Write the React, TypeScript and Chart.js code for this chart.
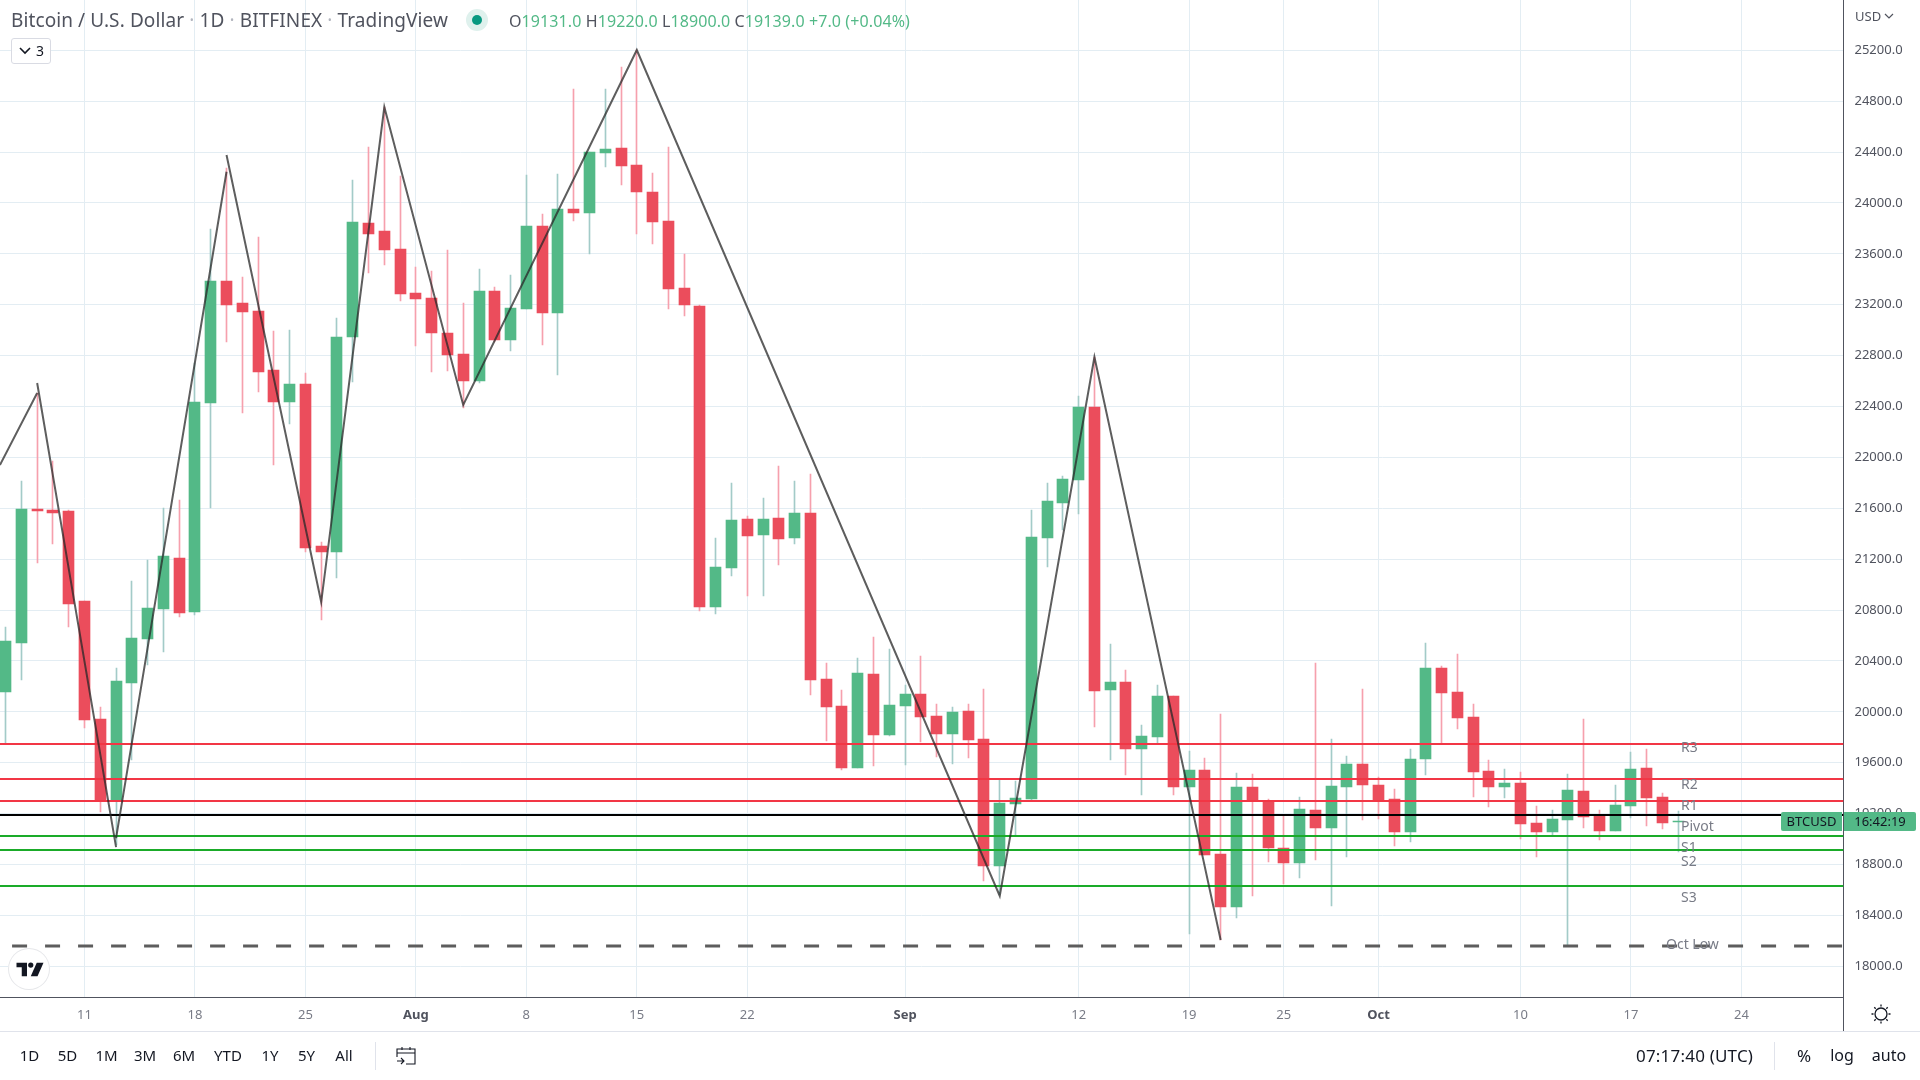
import React, { useEffect, useRef } from "react";
import { Chart, registerables } from "chart.js";

Chart.register(...registerables);

const FONT = "'Noto Sans', 'Open Sans', sans-serif";

// Day offsets are counted from 11 July; the first candle is 6 July.
const firstDay = -5;
const opens = [20156, 20541, 21594, 21586, 21579, 20871, 19944, 19307, 20227, 20572, 20808, 21209, 20785, 22427, 23386, 23213, 23151, 22687, 22435, 22577, 21303, 21256, 22946, 23842, 23779, 23638, 23292, 23253, 22978, 22813, 22600, 23308, 22923, 23166, 23819, 23135, 23952, 23921, 24392, 24432, 24298, 24086, 23858, 23331, 23190, 20824, 21131, 21516, 21390, 21524, 21366, 21563, 20258, 20046, 19559, 20297, 19818, 20046, 20140, 19967, 19826, 20007, 19787, 18788, 19276, 19315, 21366, 21642, 21822, 22396, 20172, 20234, 19708, 19802, 20124, 19409, 19543, 18883, 18466, 19409, 19299, 18930, 18812, 19228, 19087, 19409, 19590, 19425, 19315, 19055, 19629, 20345, 20156, 19959, 19535, 19409, 19441, 19126, 19055, 19150, 19378, 19181, 19063, 19260, 19559, 19331, 19131];
const highs = [20667, 21814, 22506, 21972, 21586, 20871, 20038, 20345, 21028, 21193, 21602, 21665, 22742, 23795, 24275, 23418, 23732, 22993, 23001, 22663, 21335, 23096, 24180, 24440, 24754, 24212, 23496, 23465, 23630, 23213, 23481, 23339, 23433, 24220, 23913, 24227, 24895, 24400, 24895, 25068, 25202, 24235, 24440, 23599, 23198, 21366, 21799, 21539, 21681, 21932, 21814, 21869, 20384, 20172, 20423, 20588, 20494, 20211, 20439, 20062, 20038, 20062, 20180, 19464, 19456, 21586, 21799, 21854, 22482, 22789, 20533, 20329, 19896, 20211, 20124, 19692, 19637, 19983, 19519, 19511, 19315, 19189, 19331, 20384, 19787, 19653, 20180, 19488, 19394, 19708, 20541, 20360, 20455, 20062, 19621, 19551, 19527, 19260, 19228, 19511, 19944, 19228, 19425, 19684, 19708, 19362, 19220];
const lows = [19755, 20250, 21170, 21319, 20667, 19873, 19213, 18953, 19621, 20368, 20470, 20745, 20761, 21602, 22907, 22349, 22514, 21940, 22262, 21256, 20722, 21052, 22592, 23449, 23512, 23229, 22875, 22671, 22679, 22388, 22585, 22907, 22836, 23166, 22883, 22647, 23858, 23599, 24282, 24141, 23756, 23677, 23166, 23111, 20793, 20769, 21068, 20910, 20910, 21154, 21319, 20132, 19771, 19543, 19559, 19574, 19810, 19582, 19763, 19645, 19590, 19637, 18670, 18560, 19032, 19307, 21138, 21429, 21555, 19881, 19621, 19503, 19346, 19755, 19346, 18254, 18875, 18207, 18380, 18552, 18820, 18647, 18694, 18835, 18474, 18859, 19150, 19158, 18945, 18977, 19503, 19747, 19865, 19331, 19252, 19323, 19000, 18859, 19032, 18167, 19087, 18993, 19063, 19166, 19103, 19079, 18900];
const closes = [20557, 21594, 21579, 21563, 20848, 19936, 19299, 20242, 20580, 20816, 21225, 20777, 22435, 23386, 23198, 23143, 22671, 22435, 22577, 21288, 21256, 22946, 23850, 23756, 23630, 23284, 23245, 22978, 22805, 22600, 23308, 22923, 23174, 23819, 23135, 23952, 23921, 24400, 24424, 24290, 24086, 23850, 23323, 23198, 20824, 21138, 21508, 21382, 21516, 21358, 21563, 20250, 20038, 19559, 20305, 19818, 20054, 20140, 19959, 19826, 20000, 19779, 18788, 19283, 19323, 21374, 21657, 21830, 22396, 20164, 20234, 19708, 19810, 20124, 19409, 19543, 18875, 18466, 19409, 19299, 18930, 18812, 19236, 19087, 19417, 19590, 19425, 19299, 19055, 19629, 20345, 20148, 19951, 19527, 19409, 19441, 19118, 19055, 19158, 19386, 19173, 19063, 19268, 19551, 19323, 19126, 19139];

const priceTicks = [18000, 18400, 18800, 19200, 19600, 20000, 20400, 20800, 21200, 21600, 22000, 22400, 22800, 23200, 23600, 24000, 24400, 24800, 25200];
const dayTicks = [0, 7, 14, 21, 28, 35, 42, 52, 63, 70, 76, 82, 91, 98, 105];
const dayTickLabels = ["11", "18", "25", "Aug", "8", "15", "22", "Sep", "12", "19", "25", "Oct", "10", "17", "24"];
const monthLabels = ["Aug", "Sep", "Oct"];

const levelNames = ["R3", "R2", "R1", "Pivot", "S1", "S2", "S3"];
const levelValues = [19748, 19472, 19300, 19190, 19024, 18914, 18631];
const octLowName = "Oct Low";
const octLow = 18160;

// null marks a break between two drawn zigzag legs
const zigzagDays = [-5.36, -3, null, -3, 2, null, 2, 9, null, 9, 15, 19, 24, 35, 58, 64, 72];
const zigzagPrices = [21940, 22506, null, 22585, 18937, null, 19008, 24245, null, 24377, 20863, 24754, 22412, 25202, 18553, 22789, 18207];

const symbolName = "BTCUSD";
const countdown = "16:42:19";
const legendChange = "+7.0 (+0.04%)";
const xMin = -5.355;
const xMax = 111.47;
const yMin = 17759;
const yMax = 25595;

const UP = "#53b987";
const DOWN = "#eb4d5c";
const UP_WICK = "#a3cbc8";
const DOWN_WICK = "#f6a0ad";
const GRID = "#e3edf3";
const LEVEL_COLORS = ["#f23645", "#f23645", "#f23645", "#000000", "#1aab29", "#1aab29", "#1aab29"];
const LABEL_OFFSETS = [4, 6, 5, 12, 12, 12, 12];

const ranges = [["1D", 29.5], ["5D", 67.5], ["1M", 106.5], ["3M", 145], ["6M", 184], ["YTD", 228], ["1Y", 270], ["5Y", 306.5], ["All", 344]] as const;

const days = opens.map((_, k) => firstDay + k);

const snapPlugin = {
  id: "snap",
  afterDatasetsUpdate(chart: any) {
    chart.data.datasets.forEach((ds: any, i: number) => {
      const meta = chart.getDatasetMeta(i);
      if (ds.snap === "bar") {
        meta.data.forEach((el: any) => {
          el.x = Math.floor(el.x) + 0.5;
          el.y = Math.round(el.y);
          el.base = Math.round(el.base);
        });
      } else if (ds.snap === "level") {
        meta.data.forEach((el: any) => {
          el.y = Math.round(el.y);
        });
      }
    });
  },
};

const labelPlugin = {
  id: "labels",
  afterDatasetsDraw(chart: any) {
    const { ctx, scales } = chart;
    ctx.save();
    ctx.font = `14px ${FONT}`;
    ctx.fillStyle = "#787b86";
    ctx.textBaseline = "middle";
    ctx.textAlign = "left";
    levelNames.forEach((n, i) => {
      ctx.fillText(n, 1681, scales.y.getPixelForValue(levelValues[i]) + LABEL_OFFSETS[i]);
    });
    ctx.fillText(octLowName, 1666, scales.y.getPixelForValue(octLow) - 1);
    ctx.restore();
  },
  afterDraw(chart: any) {
    const { ctx, scales } = chart;
    ctx.save();
    // right axis line continues through the date strip
    ctx.strokeStyle = "#50535e";
    ctx.lineWidth = 1;
    ctx.beginPath();
    ctx.moveTo(1843.5, 990);
    ctx.lineTo(1843.5, 1031);
    ctx.stroke();
    ctx.strokeStyle = "#e0e3eb";
    ctx.beginPath();
    ctx.moveTo(0, 1031.5);
    ctx.lineTo(1920, 1031.5);
    ctx.stroke();
    // last price tags
    const yc = Math.round(scales.y.getPixelForValue(closes[closes.length - 1]));
    ctx.fillStyle = UP;
    ctx.beginPath();
    ctx.roundRect(1781, yc - 9, 61, 19, [2, 0, 0, 2]);
    ctx.fill();
    ctx.beginPath();
    ctx.roundRect(1844, yc - 9, 72, 19, [0, 2, 2, 0]);
    ctx.fill();
    ctx.fillStyle = "#131722";
    ctx.textBaseline = "middle";
    ctx.textAlign = "center";
    ctx.font = `13px ${FONT}`;
    ctx.fillText(symbolName, 1811.5, yc + 1);
    ctx.fillText(countdown, 1880, yc + 1);
    ctx.restore();
  },
};

const abs = (x: number, y: number, extra: React.CSSProperties = {}): React.CSSProperties => ({
  position: "absolute",
  left: x,
  top: y,
  whiteSpace: "nowrap",
  lineHeight: 1,
  fontFamily: FONT,
  ...extra,
});

export default function App() {
  const ref = useRef<HTMLCanvasElement>(null);
  useEffect(() => {
    if (!ref.current) return;
    const bodies = days.map((d, k) => ({ x: d, y: [opens[k], closes[k]] }));
    const wicks = days.map((d, k) => ({ x: d, y: [lows[k], highs[k]] }));
    const isUp = (k: number) => closes[k] >= opens[k];
    const levelDatasets = levelValues.map((v, i) => ({
      type: "line" as const,
      snap: "level",
      order: 3,
      data: [{ x: xMin, y: v }, { x: xMax, y: v }],
      borderColor: LEVEL_COLORS[i],
      borderWidth: 2,
      pointRadius: 0,
    }));
    const chart = new Chart(ref.current, {
      type: "bar",
      data: {
        datasets: [
          {
            type: "bar", snap: "bar", order: 5, data: wicks, grouped: false, barThickness: 1,
            backgroundColor: days.map((_, k) => (isUp(k) ? UP_WICK : DOWN_WICK)),
          },
          {
            type: "bar", snap: "bar", order: 4, data: bodies, grouped: false, barThickness: 11,
            backgroundColor: days.map((_, k) => (isUp(k) ? UP : DOWN)),
          },
          ...levelDatasets,
          {
            type: "line", snap: "level", order: 3,
            data: [{ x: -4.59, y: octLow }, { x: xMax, y: octLow }],
            borderColor: "#5d5d5d", borderWidth: 3, borderDash: [15, 18], pointRadius: 0,
          },
          {
            type: "line", order: 2,
            data: zigzagDays.map((d, k) => ({ x: d, y: zigzagPrices[k] })),
            borderColor: "rgba(40,40,40,0.75)", borderWidth: 2, pointRadius: 0, spanGaps: false,
          },
        ] as any,
      },
      options: {
        responsive: false,
        animation: false,
        devicePixelRatio: 1,
        layout: { autoPadding: false, padding: { left: 0, right: 0, top: 0, bottom: 48 } },
        plugins: { legend: { display: false }, tooltip: { enabled: false } },
        scales: {
          x: {
            type: "linear",
            min: xMin,
            max: xMax,
            offset: false,
            grid: { color: GRID, offset: false, drawTicks: false, lineWidth: 1 },
            border: { display: true, color: "#50535e", width: 1 },
            afterBuildTicks: (s: any) => { s.ticks = dayTicks.map((v) => ({ value: v })); },
            afterFit: (s: any) => { s.height = 35; s.paddingLeft = 0; s.paddingRight = 0; },
            ticks: {
              autoSkip: false,
              maxRotation: 0,
              padding: 10,
              color: (c: any) => (monthLabels.includes(dayTickLabels[dayTicks.indexOf(c.tick?.value)]) ? "#50535e" : "#787b86"),
              font: (c: any) => ({
                family: FONT,
                size: 13,
                weight: monthLabels.includes(dayTickLabels[dayTicks.indexOf(c.tick?.value)]) ? "bold" : "normal",
              }),
              callback: (v: any) => dayTickLabels[dayTicks.indexOf(v)] ?? "",
            },
          },
          y: {
            type: "linear",
            position: "right",
            min: yMin,
            max: yMax,
            grid: { color: GRID, drawTicks: false, lineWidth: 1 },
            border: { display: true, color: "#50535e", width: 1 },
            afterBuildTicks: (s: any) => { s.ticks = priceTicks.map((v) => ({ value: v })); },
            afterFit: (s: any) => { s.width = 76.5; s.paddingTop = 0; s.paddingBottom = 0; },
            ticks: {
              autoSkip: false,
              padding: 11,
              color: "#50535e",
              font: { family: FONT, size: 13 },
              callback: (v: any) => Number(v).toFixed(1),
            },
          },
        },
      } as any,
      plugins: [snapPlugin, labelPlugin],
    });
    return () => chart.destroy();
  }, []);

  const last = closes.length - 1;
  const grey = "#50535e";
  const green = "#53b987";
  const rangeStyle = { transform: "translateX(-50%)", fontSize: 15, color: "#131722" } as React.CSSProperties;
  return (
    <div style={{ position: "fixed", left: 0, top: 0, width: 1920, height: 1080, background: "#fff", overflow: "hidden" }}>
      <canvas ref={ref} width={1920} height={1080} style={{ display: "block", width: 1920, height: 1080 }} />

      <div style={abs(11, 11, { fontSize: 19, color: grey, letterSpacing: 0.1 })}>
        Bitcoin / U.S. Dollar <span style={{ color: "#b2b5be" }}>·</span> 1D <span style={{ color: "#b2b5be" }}>·</span> BITFINEX <span style={{ color: "#b2b5be" }}>·</span> TradingView
      </div>
      <div style={{ position: "absolute", left: 466, top: 9, width: 22, height: 22, borderRadius: 11, background: "#dff1ed" }} />
      <div style={{ position: "absolute", left: 472, top: 15, width: 10, height: 10, borderRadius: 5, background: "#089981" }} />
      <div style={abs(509, 13, { fontSize: 16, color: green, letterSpacing: 0.1 })}>
        <span style={{ color: grey }}>O</span>{opens[last].toFixed(1)}{" "}
        <span style={{ color: grey }}>H</span>{highs[last].toFixed(1)}{" "}
        <span style={{ color: grey }}>L</span>{lows[last].toFixed(1)}{" "}
        <span style={{ color: grey }}>C</span>{closes[last].toFixed(1)}{" "}
        {legendChange}
      </div>

      <div style={{ position: "absolute", left: 11, top: 38, width: 38, height: 24, border: "1px solid #d9dbe3", borderRadius: 3, background: "rgba(255,255,255,.9)" }}>
        <svg width="14" height="10" style={{ position: "absolute", left: 6, top: 7 }}>
          <path d="M2 2 L7 7 L12 2" fill="none" stroke="#131722" strokeWidth="1.6" />
        </svg>
        <span style={abs(24, 5, { fontSize: 14, color: "#131722" })}>3</span>
      </div>

      <div style={abs(1855, 10, { fontSize: 13, color: "#50535e" })}>USD</div>
      <svg width="10" height="8" style={{ position: "absolute", left: 1884, top: 13 }}>
        <path d="M1 1 L5 5 L9 1" fill="none" stroke="#50535e" strokeWidth="1.2" />
      </svg>

      <div style={{ position: "absolute", left: 8, top: 948, width: 42, height: 42, borderRadius: 21, background: "#fff", boxShadow: "0 0 0 1px #e6e7ea inset" }}>
        <svg width="28" height="15" viewBox="0 0 36 20" style={{ position: "absolute", left: 8, top: 14 }}>
          <path d="M14 1H0v6h7v12h7V1z" fill="#131722" />
          <circle cx="19" cy="4" r="3.5" fill="#131722" />
          <path d="M27 1h9l-8 18h-9l8-18z" fill="#131722" />
        </svg>
      </div>

      <svg width="24" height="24" viewBox="0 0 24 24" style={{ position: "absolute", left: 1869, top: 1002 }} fill="none" stroke="#131722" strokeWidth="1.3">
        <circle cx="12" cy="12" r="6" />
        <path d="M12 2.5v2M12 19.5v2M2.5 12h2M19.5 12h2M5.3 5.3l1.4 1.4M17.3 17.3l1.4 1.4M5.3 18.7l1.4-1.4M17.3 6.7l1.4-1.4" />
      </svg>

      {ranges.map(([t, x]) => (
        <div key={t} style={abs(x, 1048, rangeStyle)}>{t}</div>
      ))}
      <div style={{ position: "absolute", left: 375, top: 1042, width: 1, height: 28, background: "#e0e3eb" }} />
      <svg width="22" height="22" viewBox="0 0 22 22" style={{ position: "absolute", left: 395, top: 1045 }} fill="none" stroke="#131722" strokeWidth="1.1">
        <path d="M2 12V4h18v15h-9M2 8h18M7 2v3M15 2v3M2 16h7M6 13l3 3-3 3" />
      </svg>

      <div style={abs(1636, 1047, { fontSize: 17, color: "#131722", letterSpacing: 0.2 })}>07:17:40 (UTC)</div>
      <div style={{ position: "absolute", left: 1774, top: 1042, width: 1, height: 28, background: "#e0e3eb" }} />
      <div style={abs(1804, 1047, { ...rangeStyle, fontSize: 17 })}>%</div>
      <div style={abs(1842, 1047, { ...rangeStyle, fontSize: 16 })}>log</div>
      <div style={abs(1889, 1047, { ...rangeStyle, fontSize: 16 })}>auto</div>
    </div>
  );
}
